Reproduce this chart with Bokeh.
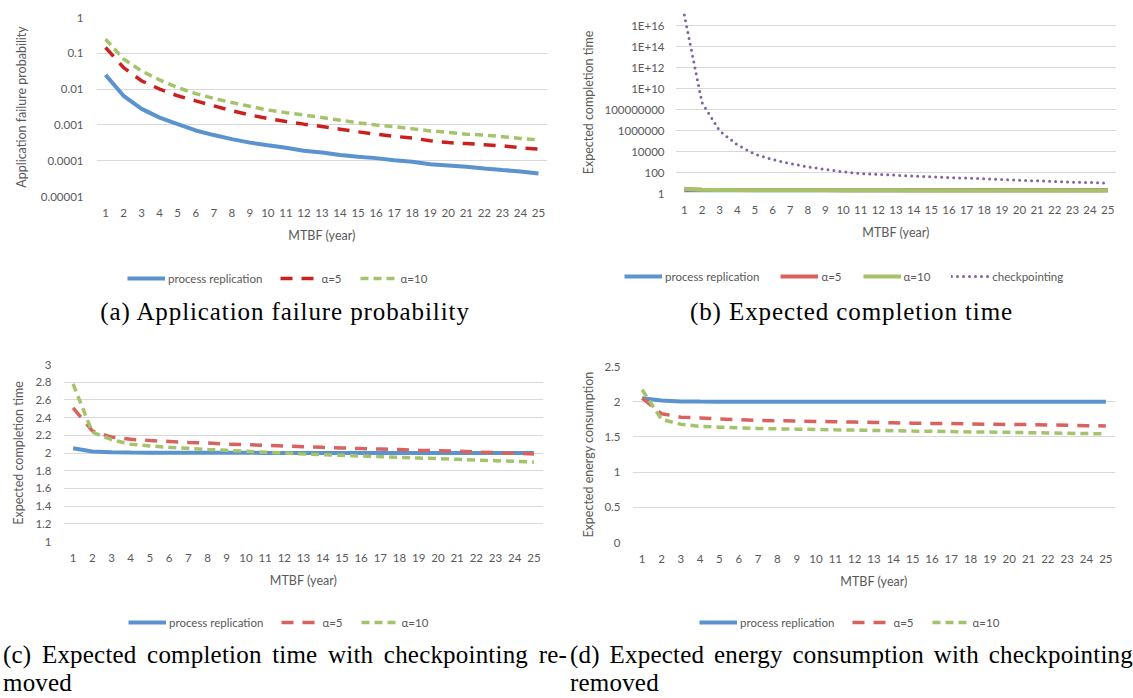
from bokeh.plotting import figure
from bokeh.models import FixedTicker, Legend, LegendItem, Range1d, Div
from bokeh.layouts import column, row
from bokeh.embed import file_html
from bokeh.resources import INLINE

# ---------------- data ----------------
mtbf = list(range(1, 26))

# (a) application failure probability
fail_repl = [0.025, 0.0065, 0.0028, 0.0016, 0.00105, 0.0007, 0.00052, 0.0004, 0.00032, 0.00027,
             0.00023, 0.00019, 0.00017, 0.000145, 0.000128, 0.000118, 0.000103, 0.000093, 0.00008,
             0.000074, 0.000068, 0.000061, 0.000055, 0.00005, 0.000044]
fail_a5 = [0.145, 0.04, 0.017, 0.01, 0.0065, 0.0047, 0.0034, 0.0025, 0.0019, 0.0015, 0.00125,
           0.00105, 0.0009, 0.00076, 0.00064, 0.00055, 0.00048, 0.00043, 0.00036, 0.00032, 0.0003,
           0.00028, 0.00026, 0.00023, 0.00021]
fail_a10 = [0.25, 0.069, 0.032, 0.018, 0.011, 0.0075, 0.0055, 0.0042, 0.0033, 0.0026, 0.0022,
            0.0019, 0.0016, 0.00135, 0.00114, 0.001, 0.00089, 0.00078, 0.00068, 0.00062, 0.00055,
            0.00052, 0.00047, 0.00042, 0.00038]

# (b)/(c) expected completion time
time_repl = [2.053, 2.018, 2.008, 2.005, 2.004, 2.003, 2.003, 2.002, 2.002, 2.002, 2.001, 2.001,
             2.001, 2.001, 2.001, 2.001, 2.001, 2.001, 2.001, 2.0, 2.0, 2.0, 2.0, 2.0, 2.0]
time_a5 = [2.51, 2.25, 2.18, 2.155, 2.14, 2.13, 2.12, 2.113, 2.10, 2.094, 2.087, 2.08, 2.072,
           2.064, 2.057, 2.05, 2.045, 2.04, 2.03, 2.026, 2.02, 2.011, 2.004, 1.996, 1.99]
time_a10 = [2.78, 2.235, 2.15, 2.10, 2.08, 2.064, 2.053, 2.04, 2.03, 2.02, 2.008, 2.0, 1.99, 1.98,
            1.974, 1.966, 1.958, 1.95, 1.943, 1.936, 1.928, 1.92, 1.913, 1.906, 1.898]
time_ckpt = [1.0e17, 4.6e8, 9.3e5, 4.3e4, 5600, 1700, 720, 345, 194, 115, 80, 66, 55, 45, 38, 33,
             29, 25, 21, 18, 16, 14, 12, 11, 9.6]

# (d) expected energy consumption
energy_repl = [2.05, 2.016, 2.004, 2.002, 2.001, 2.001, 2.0, 2.0, 2.0, 2.0, 2.0, 2.0, 2.0, 2.0,
               2.0, 2.0, 2.0, 2.0, 2.0, 2.0, 2.0, 2.0, 2.0, 2.0, 2.0]
energy_a5 = [2.05, 1.83, 1.78, 1.77, 1.755, 1.745, 1.735, 1.73, 1.725, 1.72, 1.715, 1.71, 1.705,
             1.70, 1.695, 1.69, 1.69, 1.685, 1.68, 1.677, 1.675, 1.67, 1.665, 1.66, 1.655]
energy_a10 = [2.17, 1.75, 1.68, 1.65, 1.638, 1.63, 1.62, 1.615, 1.61, 1.605, 1.60, 1.597, 1.592,
              1.588, 1.583, 1.58, 1.575, 1.57, 1.568, 1.565, 1.56, 1.556, 1.552, 1.547, 1.543]

series_names = ["process replication", "\u03b1=5", "\u03b1=10", "checkpointing"]

a_ticks = [0.00001, 0.0001, 0.001, 0.01, 0.1, 1.0]
a_tick_labels = ["0.00001", "0.0001", "0.001", "0.01", "0.1", "1"]
b_ticks = [1.0, 1e2, 1e4, 1e6, 1e8, 1e10, 1e12, 1e14, 1e16]
b_tick_labels = ["1", "100", "10000", "1000000", "100000000", "1E+10", "1E+12", "1E+14", "1E+16"]
c_ticks = [1.0, 1.2, 1.4, 1.6, 1.8, 2.0, 2.2, 2.4, 2.6, 2.8, 3.0]
c_tick_labels = ["1", "1.2", "1.4", "1.6", "1.8", "2", "2.2", "2.4", "2.6", "2.8", "3"]
d_ticks = [0.0, 0.5, 1.0, 1.5, 2.0, 2.5]
d_tick_labels = ["0", "0.5", "1", "1.5", "2", "2.5"]

captions = {
    "a": ["(a) Application failure probability"],
    "b": ["(b) Expected completion time"],
    "c": ["(c) Expected completion time with checkpointing re-", "moved"],
    "d": ["(d) Expected energy consumption with checkpointing", "removed"],
}

# ---------------- style ----------------
BLUE = "#5B93CF"
RED_A = "#CC2020"
RED = "#D9625E"
GREEN = "#A5C36A"
PURPLE = "#8064A2"
GRAY = "#595959"
SANS = "Lato"
SERIF = "'Liberation Serif', serif"

STYLES = {
    "repl": dict(line_color=BLUE, line_width=4),
    "a5_red": dict(line_color=RED_A, line_width=3.5, line_dash="12 9"),
    "a5": dict(line_color=RED, line_width=3.5, line_dash="12 9"),
    "a10": dict(line_color=GREEN, line_width=3.5, line_dash="8 5"),
    "a5_solid": dict(line_color=RED, line_width=4),
    "a10_solid": dict(line_color=GREEN, line_width=4),
    "ckpt": dict(line_color=PURPLE, line_width=3, line_dash="0 6", line_cap="round"),
}


def make_fig(w, h, left, right, top, bottom, ytype, yr, yticks, ylabels, ylabel,
             tick_standoff, title_standoff):
    p = figure(width=w, height=h, title=None, x_range=Range1d(0.5, 25.5),
               y_range=Range1d(*yr), y_axis_type=ytype, output_backend="svg",
               toolbar_location=None, min_border_left=left, min_border_right=right,
               min_border_top=top, min_border_bottom=bottom)
    p.frame_align = False
    p.outline_line_color = None
    p.background_fill_color = "white"
    p.border_fill_color = "white"
    p.xgrid.visible = False
    p.ygrid.grid_line_color = "#D9D9D9"
    p.ygrid.grid_line_width = 1
    p.xaxis.ticker = FixedTicker(ticks=mtbf)
    p.yaxis.ticker = FixedTicker(ticks=yticks)
    p.yaxis.major_label_overrides = {t: s for t, s in zip(yticks, ylabels)}
    for ax in (p.xaxis, p.yaxis):
        ax.axis_line_color = None
        ax.major_tick_line_color = None
        ax.minor_tick_line_color = None
        ax.major_tick_out = 0
        ax.major_tick_in = 0
        ax.minor_tick_out = 0
        ax.minor_tick_in = 0
        ax.major_label_text_font = SANS
        ax.major_label_text_font_size = "11.5px"
        ax.major_label_text_color = GRAY
        ax.axis_label_text_font = SANS
        ax.axis_label_text_font_size = "12.5px"
        ax.axis_label_text_font_style = "normal"
        ax.axis_label_text_color = GRAY
    p.xaxis.axis_label = "MTBF (year)"
    p.xaxis.major_label_standoff = 12
    p.xaxis.axis_label_standoff = 8
    p.yaxis.axis_label = ylabel
    p.yaxis.major_label_standoff = tick_standoff
    p.yaxis.axis_label_standoff = title_standoff
    return p


def legend_fig(w, h, entries, vx, vy, spacing=18):
    # an axis-less strip under each chart that only hosts its legend; the series are
    # drawn again from the same arrays but the view range keeps them out of sight
    p = figure(width=w, height=h, title=None, x_range=Range1d(100, 101),
               y_range=Range1d(100, 101), output_backend="svg", toolbar_location=None,
               x_axis_location=None, y_axis_location=None, min_border=0,
               min_border_left=0, min_border_right=0, min_border_top=0, min_border_bottom=0)
    p.frame_align = False
    p.outline_line_color = None
    p.grid.visible = False
    items = []
    for key, name, ys in entries:
        r = p.line(mtbf, ys, **STYLES[key])
        items.append(LegendItem(label=name, renderers=[r]))
    leg = Legend(items=items, location=(vx, vy), orientation="horizontal",
                 glyph_width=38, glyph_height=14, label_height=14, label_standoff=3,
                 spacing=spacing, padding=0, margin=0, border_line_alpha=0,
                 background_fill_alpha=0, label_text_font=SANS,
                 label_text_font_size="11.5px", label_text_color=GRAY)
    p.add_layout(leg)
    return p


def caption_div(lines, w, h, pad_left, centered):
    base = ("font-family:%s;font-size:25px;line-height:28px;"
            "color:#000;white-space:nowrap;" % SERIF)
    if centered:
        html = '<div style="%sletter-spacing:0.9px;width:%dpx;text-align:center;">%s</div>' % (
            base, w, lines[0])
    else:
        inner = '<div style="text-align:justify;text-align-last:justify;">%s</div>' % lines[0]
        inner += '<div style="text-align:left;">%s</div>' % lines[1]
        html = '<div style="%sletter-spacing:0.2px;width:%dpx;padding-left:%dpx;">%s</div>' % (
            base, w - pad_left, pad_left, inner)
    return Div(text=html, width=w, height=h, margin=(0, 0, 0, 0))


# ---------------- (a) ----------------
pa = make_fig(570, 250, 96, 23, 17, 54, "log", (0.00001, 1.0), a_ticks, a_tick_labels,
              "Application failure probability", 13, 9)
pa.line(mtbf, fail_repl, **STYLES["repl"])
pa.line(mtbf, fail_a5, **STYLES["a5_red"])
pa.line(mtbf, fail_a10, **STYLES["a10"])
la = legend_fig(570, 48, [("repl", series_names[0], fail_repl),
                          ("a5_red", series_names[1], fail_a5),
                          ("a10", series_names[2], fail_a10)], 127, 13)

# ---------------- (b) ----------------
pb = make_fig(563, 250, 105, 17, 11, 57, "log", (1.0, 10 ** 17.33), b_ticks, b_tick_labels,
              "Expected completion time", 11, 5)
pb.line(mtbf, time_repl, **STYLES["repl"])
pb.line(mtbf, time_a5, **STYLES["a5_solid"])
pb.line(mtbf, time_a10, **STYLES["a10_solid"])
pb.line(mtbf, time_ckpt, **STYLES["ckpt"])
lb = legend_fig(563, 48, [("repl", series_names[0], time_repl),
                          ("a5_solid", series_names[1], time_a5),
                          ("a10_solid", series_names[2], time_a10),
                          ("ckpt", series_names[3], time_ckpt)], 54, 15, spacing=21)

# ---------------- (c) ----------------
pc = make_fig(570, 255, 63, 27, 24, 54, "linear", (1.0, 3.0), c_ticks, c_tick_labels,
              "Expected completion time", 12, 6)
pc.line(mtbf, time_repl, **STYLES["repl"])
pc.line(mtbf, time_a5, **STYLES["a5"])
pc.line(mtbf, time_a10, **STYLES["a10"])
lc = legend_fig(570, 46, [("repl", series_names[0], time_repl),
                          ("a5", series_names[1], time_a5),
                          ("a10", series_names[2], time_a10)], 128, 12)

# ---------------- (d) ----------------
pd_ = make_fig(563, 255, 62, 18, 26, 53, "linear", (0.0, 2.5), d_ticks, d_tick_labels,
               "Expected energy consumption", 12, 5)
pd_.line(mtbf, energy_repl, **STYLES["repl"])
pd_.line(mtbf, energy_a5, **STYLES["a5"])
pd_.line(mtbf, energy_a10, **STYLES["a10"])
ld = legend_fig(563, 46, [("repl", series_names[0], energy_repl),
                          ("a5", series_names[1], energy_a5),
                          ("a10", series_names[2], energy_a10)], 129, 12)

ca = caption_div(captions["a"], 570, 42, 0, True)
cb = caption_div(captions["b"], 563, 42, 0, True)
cc = caption_div(captions["c"], 570, 57, 3, False)
cd = caption_div(captions["d"], 563, 57, 0, False)

layout = column(
    row(column(pa, la, ca, spacing=0), column(pb, lb, cb, spacing=0), spacing=0),
    row(column(pc, lc, cc, spacing=0), column(pd_, ld, cd, spacing=0), spacing=0),
    spacing=0)
open("out.html", "w").write(file_html(layout, INLINE))
